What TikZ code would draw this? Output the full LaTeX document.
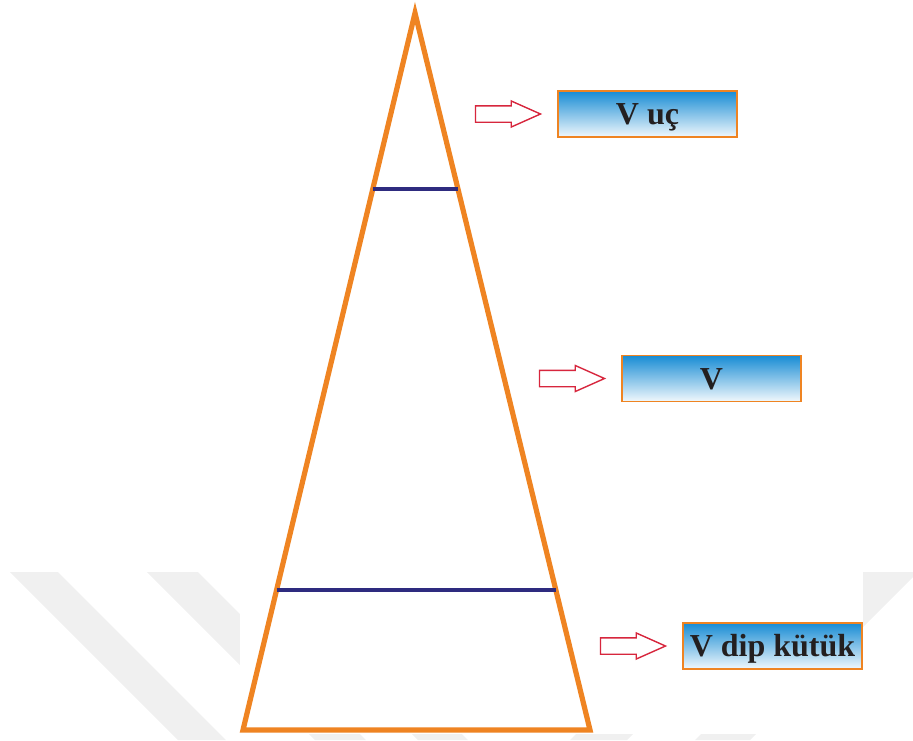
\documentclass[tikz,border=0pt]{standalone}
\usepackage{fontspec}
\setmainfont{Liberation Serif}
\usetikzlibrary{positioning, shapes.arrows, calc}
\definecolor{trunkorange}{RGB}{239,132,34}
\definecolor{cutnavy}{RGB}{46,43,127}
\definecolor{hintred}{RGB}{215,38,61}
\definecolor{boxblue}{RGB}{24,140,212}
\definecolor{inkgray}{RGB}{35,31,32}
\definecolor{wmgray}{RGB}{240,240,240}

\begin{document}
\begin{tikzpicture}[
    x=0.5pt, y=-0.5pt,
    every node/.style={font=\bfseries\fontsize{16}{19}\selectfont, text=inkgray},
    box/.style ={draw=trunkorange, line width=0.8pt, top color=boxblue,
                 bottom color=white!94!boxblue, minimum width=89.5pt,
                 minimum height=23pt, inner sep=0pt,
                 text height=10.6pt, text depth=0pt},
    hint/.style={single arrow, draw=hintred, fill=white, line width=0.7pt,
                 minimum height=32.5pt, inner xsep=0pt, inner ysep=3.75pt,
                 single arrow head extend=2.4pt, single arrow tip angle=48},
    trunk/.style={draw=trunkorange, line width=2.6pt, line join=miter},
    cut/.style ={draw=cutnavy, line width=2pt},
    wm/.style  ={fill=wmgray},
]
\useasboundingbox (0,0) rectangle (913,740);

% --- faint watermark behind the figure ---
\fill[wm] (10,572) -- (58,572) -- (226,740) -- (178,740) -- cycle;
\fill[wm] (147,572) -- (198,572) -- (366,740) -- (315,740) -- cycle;
\fill[wm] (250,572) -- (300,572) -- (468,740) -- (418,740) -- cycle;
\fill[wm] (738,572) -- (795,572) -- (627,740) -- (570,740) -- cycle;
\fill[wm] (863,572) -- (913,572) -- (913,577) -- (750,740) -- (695,740) -- cycle;
\fill[white] (240,560) rectangle (863,734);

% --- the stem, cut in three pieces ---
\coordinate (apex) at (415,13);
\coordinate (bl) at (243,730);
\coordinate (br) at (590,730);
\draw[trunk] (apex) -- (bl) -- (br) -- cycle;
\draw[cut] ($(apex)!0.245!(bl)$) -- ($(apex)!0.245!(br)$);
\draw[cut] ($(apex)!0.805!(bl)$) -- ($(apex)!0.805!(br)$);

% --- volume labels with their pointers ---
\node[box] (vtip)  at (647.5,114)   {V uç};
\node[box] (vmid)  at (711.5,378.5) {V};
\node[box] (vbase) at (772.5,646)   {V dip kütük};
\node[hint, left=7.5pt of vtip]  (ptip)  {};
\node[hint, left=7.5pt of vmid]  (pmid)  {};
\node[hint, left=7.5pt of vbase] (pbase) {};
\end{tikzpicture}
\end{document}
